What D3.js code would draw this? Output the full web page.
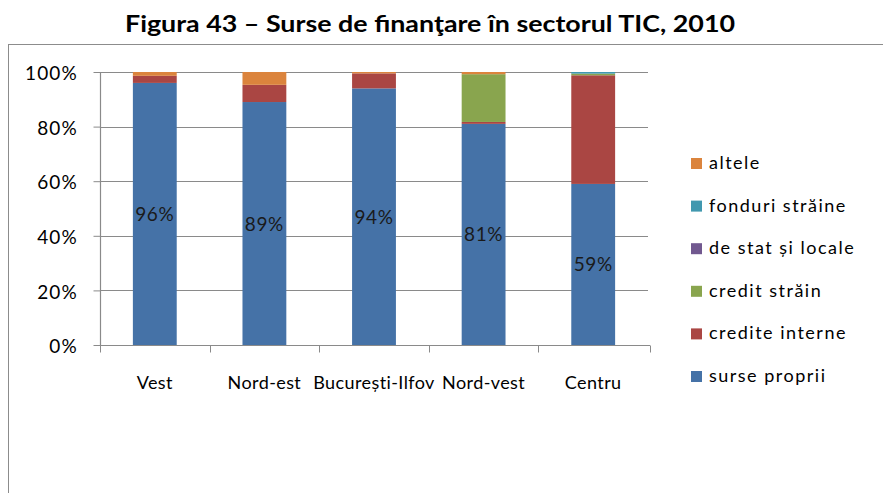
<!DOCTYPE html>
<html>
<head>
<meta charset="utf-8">
<script src="https://cdn.jsdelivr.net/npm/d3@7"></script>
<style>
  html, body { margin: 0; padding: 0; background: #fff; }
  svg { display: block; font-family: Lato, "Open Sans", sans-serif; }
</style>
</head>
<body>
<svg id="chart" width="883" height="493"></svg>
<script>
// Regions (categories) and funding sources (series), shares in percent
const regions = ["Vest", "Nord-est", "București-Ilfov", "Nord-vest", "Centru"];
const sursePropii    = [96, 89, 94, 81, 59];
const crediteInterne = [2.6, 6.3, 5.5, 0.7, 39.8];
const creditStrain   = [0, 0, 0, 17.5, 0.6];
const deStatSiLocale = [0, 0, 0, 0, 0];
const fonduriStraine = [0, 0, 0, 0, 0.6];
const altele         = [1.4, 4.7, 0.5, 0.8, 0];
const yTicks = [0, 20, 40, 60, 80, 100];

const seriesNames  = ["surse proprii", "credite interne", "credit străin", "de stat și locale", "fonduri străine", "altele"];
const seriesValues = [sursePropii, crediteInterne, creditStrain, deStatSiLocale, fonduriStraine, altele];
const colors = ["#4572A7", "#AA4643", "#89A54E", "#71588F", "#4198AF", "#DB843D"];

const FONT = "Lato, 'Open Sans', sans-serif";
const svg = d3.select("#chart");

// outer chart frame
svg.append("rect")
  .attr("x", 8.5).attr("y", 44.5).attr("width", 900).attr("height", 500)
  .attr("fill", "none").attr("stroke", "#8c8c8c").attr("stroke-width", 1);

// title
svg.append("text")
  .attr("x", 430).attr("y", 32)
  .attr("text-anchor", "middle")
  .attr("font-family", FONT)
  .attr("font-weight", "bold")
  .attr("font-size", 23)
  .attr("fill", "#000")
  .attr("textLength", 610).attr("lengthAdjust", "spacingAndGlyphs")
  .text("Figura 43 – Surse de finanţare în sectorul TIC, 2010");

const plot = { left: 100, right: 648, top: 72, bottom: 345 };

const x = d3.scaleBand().domain(regions).range([plot.left, plot.right]).paddingInner(0.6).paddingOuter(0.3);
const xOuter = d3.scaleBand().domain(regions).range([plot.left, plot.right]);
const y = d3.scaleLinear().domain([0, 100]).range([plot.bottom, plot.top]);

// table rows for stacking
const rows = regions.map((r, i) => {
  const o = { region: r };
  seriesNames.forEach((s, k) => { o[s] = seriesValues[k][i]; });
  return o;
});
const stacked = d3.stack().keys(seriesNames)(rows);

// gridlines
svg.append("g").selectAll("line").data(yTicks).join("line")
  .attr("x1", plot.left).attr("x2", plot.right)
  .attr("y1", d => Math.round(y(d)) + 0.5).attr("y2", d => Math.round(y(d)) + 0.5)
  .attr("stroke", "#8a8a8a").attr("stroke-width", 1.2);

// bars
svg.append("g").selectAll("g").data(stacked).join("g")
  .attr("fill", (d, i) => colors[i])
  .selectAll("rect").data(d => d).join("rect")
  .attr("x", d => x(d.data.region))
  .attr("width", x.bandwidth())
  .attr("y", d => y(d[1]))
  .attr("height", d => Math.max(0, y(d[0]) - y(d[1])));

// value labels on the own-funds segment
svg.append("g").selectAll("text").data(stacked[0]).join("text")
  .attr("x", d => x(d.data.region) + x.bandwidth() / 2)
  .attr("y", d => (y(d[0]) + y(d[1])) / 2 + 7)
  .attr("text-anchor", "middle")
  .attr("font-family", FONT)
  .attr("font-size", 19)
  .attr("letter-spacing", 0.6)
  .attr("fill", "#1a1a1a")
  .text(d => Math.round(d[1] - d[0]) + "%");

// y axis
const yAxis = d3.axisLeft(y).tickValues(yTicks).tickFormat(d => d + "%").tickSize(7).tickPadding(15.5);
const gy = svg.append("g").attr("transform", `translate(${plot.left + 0.5},0)`).call(yAxis);
gy.select(".domain").attr("stroke", "#8a8a8a").attr("stroke-width", 1.2).attr("d", `M0,${plot.top}V${plot.bottom}`);
gy.selectAll(".tick line").attr("stroke", "#8a8a8a");
gy.selectAll(".tick text").attr("font-size", 19).attr("fill", "#000")
  .attr("letter-spacing", 1.2)
  .attr("font-family", FONT).attr("dy", "0.4em");

// x axis with tick marks at category boundaries
const gx = svg.append("g").attr("transform", `translate(0,${plot.bottom + 0.5})`);
gx.append("line").attr("x1", plot.left).attr("x2", plot.right + 2)
  .attr("stroke", "#8a8a8a").attr("stroke-width", 1.2);
const bounds = regions.map(r => xOuter(r)).concat([plot.right + 1.5]);
gx.selectAll("line.tk").data(bounds).join("line").attr("class", "tk")
  .attr("x1", d => Math.round(d) + 0.5).attr("x2", d => Math.round(d) + 0.5)
  .attr("y1", 0).attr("y2", 7).attr("stroke", "#8a8a8a");
gx.selectAll("text").data(regions).join("text")
  .attr("x", d => xOuter(d) + xOuter.bandwidth() / 2)
  .attr("y", 43)
  .attr("text-anchor", "middle")
  .attr("font-family", FONT)
  .attr("font-size", 18).attr("letter-spacing", 0.4).attr("fill", "#000")
  .text(d => d);

// legend (top entry = last series)
const legendItems = seriesNames.map((s, i) => ({ name: s, color: colors[i] })).reverse();
const lg = svg.append("g").selectAll("g").data(legendItems).join("g")
  .attr("transform", (d, i) => `translate(691,${169 + i * 42.6})`);
lg.append("rect").attr("x", 0).attr("y", -11).attr("width", 11).attr("height", 11)
  .attr("fill", d => d.color);
lg.append("text").attr("x", 18).attr("y", 0)
  .attr("font-family", FONT)
  .attr("font-size", 18).attr("letter-spacing", 1.5).attr("fill", "#000")
  .text(d => d.name);
</script>
</body>
</html>
